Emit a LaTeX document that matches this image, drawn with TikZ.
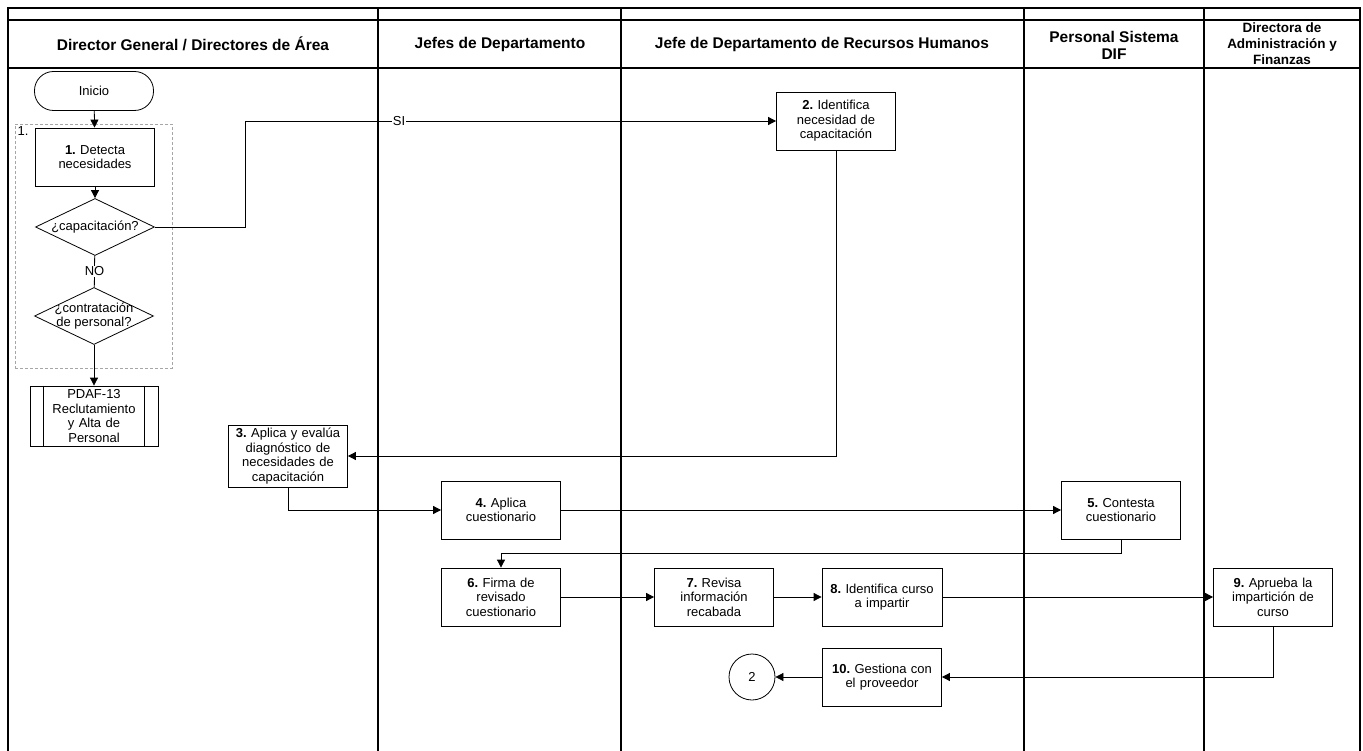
\documentclass[tikz,border=0pt]{standalone}
\usepackage{fontspec}
\setmainfont{Liberation Sans}
\usetikzlibrary{arrows,arrows.meta,calc,shapes.geometric,positioning}
\newcommand{\textonodo}{\fontsize{13}{14.6}\selectfont}
\frenchspacing
\tikzset{
	paso/.style={rectangle, draw, minimum width=119pt, minimum height=58pt, text width=117pt, align=center, inner sep=1pt, font=\textonodo},
	decision/.style={diamond, draw, minimum width=119pt, minimum height=57pt, inner sep=0pt, font=\textonodo},
	inicio/.style={rectangle, draw, rounded corners=19pt, minimum width=119pt, minimum height=39pt, font=\textonodo},
	subproceso/.style={paso, minimum width=128pt, minimum height=60pt},
	conector/.style={circle, draw, minimum size=46pt, font=\textonodo},
	carril/.style={line width=1.3pt},
	titulo/.style={align=center, font=\fontsize{15.5}{17}\selectfont\bfseries},
	grupo/.style={draw=gray!70, densely dashed, line width=0.6pt}
}

\begin{document}
\begin{tikzpicture}[x=1pt, y=-1pt, >={Triangle[length=8pt, width=8pt]}, line width=0.8pt]
    \useasboundingbox[fill=white] (0,0) rectangle (1363,751);
    % carriles
    \draw [carril] (8,751) -- (8,8) -- (1360,8) -- (1360,751);
    \draw [carril] (8,20) -- (1360,20);
    \draw [carril] (8,68) -- (1360,68);
    \foreach \xc in {378,621,1024,1204}
        \draw [carril] (\xc,8) -- (\xc,751);
    \node (t1) [titulo] at (193,44) {Director General / Directores de Área};
    \node (t2) [titulo] at (500,44) {Jefes de Departamento};
    \node (t3) [titulo] at (822,44) {Jefe de Departamento de Recursos Humanos};
    \node (t4) [titulo] at (1114,45) {Personal Sistema\\DIF};
    \node (t5) [titulo, font=\fontsize{13.5}{16}\selectfont\bfseries] at (1282,44) {Directora de\\Administración y\\Finanzas};

    % pasos
    \node (ini) [inicio] at (94,91) {Inicio};
    \node (g1) [grupo, minimum width=157pt, minimum height=244pt] at (93.5,246) {};
    \node (g1num) [anchor=north west, inner sep=2.5pt, font=\textonodo] at (g1.north west) {1.};
    \node (p1) [paso] at (95,157) {\textbf{1.} Detecta\\necesidades};
    \node (cap) [decision] at (95,227) {\makebox[0pt]{¿capacitación?}};
    \node (con) [decision] at (94,316) {\makebox[0pt]{\shortstack{¿contratación\\de personal?}}};
    \node (pdaf) [subproceso] at (94,416) {PDAF-13\\Reclutamiento\\y Alta de\\Personal};
    \draw ($(pdaf.north west)+(14,0)$) -- ($(pdaf.south west)+(14,0)$);
    \draw ($(pdaf.north east)+(-14,0)$) -- ($(pdaf.south east)+(-14,0)$);
    \node (p2) [paso] at (836,121) {\textbf{2.} Identifica\\necesidad de\\capacitación};
    \node (p3) [paso, minimum height=62pt] at (288,456) {\textbf{3.} Aplica y evalúa\\diagnóstico de\\necesidades de\\capacitación};
    \node (p4) [paso] at (501,510) {\textbf{4.} Aplica\\cuestionario};
    \node (p5) [paso] at (1121,510) {\textbf{5.} Contesta\\cuestionario};
    \node (p6) [paso] at (501,597) {\textbf{6.} Firma de\\revisado\\cuestionario};
    \node (p7) [paso, minimum width=117pt] at (714,597) {\textbf{7.} Revisa\\información\\recabada};
    \node (p8) [paso, minimum width=120pt] at (882,597) {\textbf{8.} Identifica curso\\a impartir};
    \node (p9) [paso] at (1273,597) {\textbf{9.} Aprueba la\\impartición de\\curso};
    \node (p10) [paso] at (882,677) {\textbf{10.} Gestiona con\\el proveedor};
    \node (c2) [conector] at (752,677) {2};
    \coordinate (codo) at (245,121);

    % conexiones
    \draw [->] (ini) -- (p1);
    \draw [->] (p1) -- (cap);
    \draw (cap) -- node[fill=white, inner sep=1pt, font=\textonodo] {NO} (con);
    \draw [->] (con) -- (pdaf);
    \draw [->] (cap.east) -| (codo) -- node[pos=0.29, fill=white, inner sep=1pt, font=\textonodo] {SI} (p2.west);
    \draw [->] (p2.south) |- (p3.east);
    \draw [->] (p3.south) |- (p4.west);
    \draw [->] (p4) -- (p5);
    \draw [->] (p5.south) -- ++(0,14) -| (p6.north);
    \draw [->] (p6) -- (p7);
    \draw [->] (p7) -- (p8);
    \draw [->] (p8) -- (p9);
    \draw [->] (p9.south) |- (p10.east);
    \draw [->] (p10) -- (c2);
\end{tikzpicture}
\end{document}
